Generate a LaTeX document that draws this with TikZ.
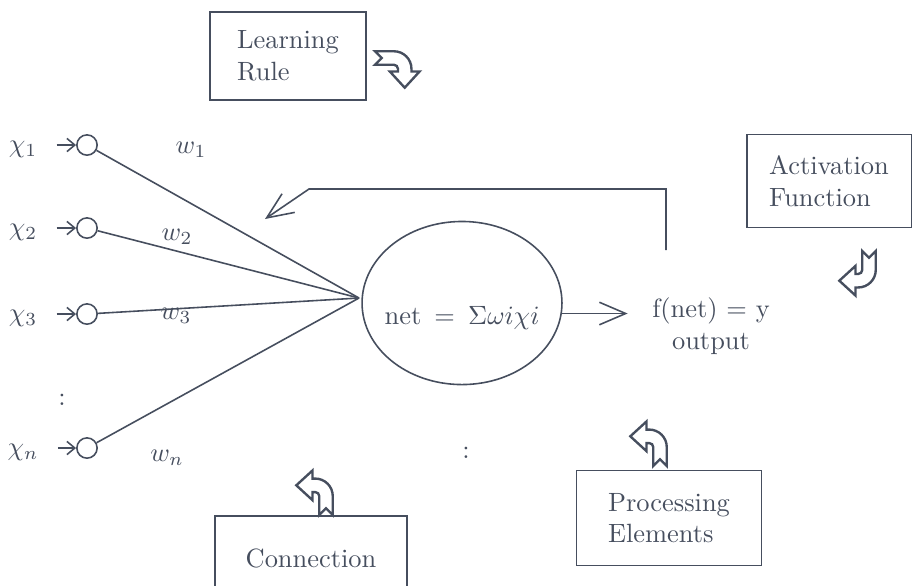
\documentclass[tikz,border=0pt]{standalone}
\usetikzlibrary{arrows.meta, shapes.geometric}

\definecolor{ink}{RGB}{70,78,94}

\tikzset{
  icon/.style={draw=ink, line width=0.9pt, fill=white, line join=miter},
  labelbox/.style={draw=ink, rectangle, align=left, text=ink},
  inputnode/.style={draw=ink, circle, minimum size=0.27cm, inner sep=0pt},
  barb/.style={-{Straight Barb[length=0.35cm, width=0.3cm]}},
  bentarrow/.pic={
    \draw [icon] (5, 0) -- (5, -14) arc [start angle=0, end angle=-90, radius=13]
      -- (-10, -27) -- (-10, -33) -- (-22, -22) -- (-10, -11) -- (-10, -17) -- (-8, -17)
      arc [start angle=-90, end angle=0, radius=3] -- (-5, 0) -- (0, -5) -- cycle;
  }
}

\begin{document}
\begin{tikzpicture}[x=0.0133cm, y=-0.0133cm, ink, text=ink, line width=0.6pt]
    \useasboundingbox (0, 0) rectangle (913, 585);

    % Inputs x_i
    \node (x1) at (23, 149) {$\chi_1$};
    \node (x2) at (23, 232) {$\chi_2$};
    \node (x3) at (23, 318) {$\chi_3$};
    \node (xn) at (23, 452) {$\chi_n$};
    \node (vdots) at (62, 400) {:};

    % Input units
    \node [inputnode] (u1) at (87, 145) {};
    \node [inputnode] (u2) at (87, 228) {};
    \node [inputnode] (u3) at (87, 314) {};
    \node [inputnode] (un) at (87, 448) {};

    \foreach \i in {1, 2, 3, n}
      \draw [-{Straight Barb[length=3pt, width=5pt]}, shorten <=0.13cm]
            (x\i.east |- u\i) -- (u\i.west);

    % Weights
    \node (w1) at (191, 150) {$w_1$};
    \node (w2) at (177, 237) {$w_2$};
    \node (w3) at (176, 316) {$w_3$};
    \node (wn) at (167, 458) {$w_n$};

    % net = sum
    \node [draw, ellipse, inner sep=0pt, minimum width=2.66cm, minimum height=2.17cm] (sum) at (462, 303)
          {\raisebox{-8pt}[0pt][0pt]{\makebox[0pt]{net \,$=$\, $\Sigma\omega i\chi i$}}};
    \node (hdots) at (466, 453) {:};

    % Edges
    \coordinate (join) at (359, 298);
    \foreach \i in {1, 2, 3, n}
      \draw (u\i) -- (join);

    % Output
    \node [align=center] (out) at (711, 326) {f(net) $=$ y\\output};
    \draw [barb, shorten >=0.2cm] (sum.-6) -- (sum.-6 -| out.west);

    % Feedback
    \coordinate (fbstart) at (666, 250);
    \coordinate (fbtip) at (265, 219);
    \draw [barb] (fbstart) -- (666, 189) -- (309, 189) -- (fbtip);

    % Labels
    \node [labelbox, minimum width=2.07cm, minimum height=1.17cm] (learn) at (288, 56) {Learning\\Rule};
    \node [labelbox, minimum width=2.19cm, minimum height=1.24cm] (act) at (829, 181) {Activation\\Function};
    \node [labelbox, minimum width=2.55cm, minimum height=1.12cm] (conn) at (311, 558) {Connection};
    \node [labelbox, minimum width=2.46cm, minimum height=1.26cm] (proc) at (669, 518) {Processing\\Elements};

    % Hollow arrows
    \pic [rotate=-90, xscale=-1, scale=1.35] at (375, 58) {bentarrow};
    \pic [yscale=-1, scale=1.35] at (869, 251) {bentarrow};
    \pic [scale=1.35] at (326, 515) {bentarrow};
    \pic [scale=1.35] at (660, 466) {bentarrow};
\end{tikzpicture}
\end{document}
